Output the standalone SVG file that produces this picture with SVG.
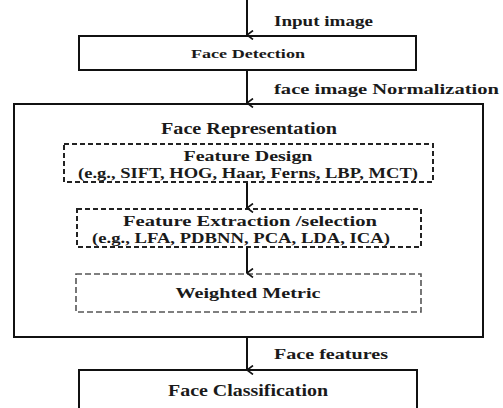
<svg xmlns="http://www.w3.org/2000/svg" width="503" height="408" viewBox="0 0 503 408">
<defs>
<style>
text{font-family:"Liberation Serif","DejaVu Serif",serif;font-weight:bold;fill:#1a1a1a}
.box{fill:#fff;stroke:#111;stroke-width:2}
.dash{fill:none;stroke:#222;stroke-width:2;stroke-dasharray:5,3}
.dash2{fill:none;stroke:#555;stroke-width:1.6;stroke-dasharray:6,3}
.conn{stroke:#111;stroke-width:2;fill:none;marker-end:url(#ah)}
</style>
<marker id="ah" viewBox="0 0 10 10" refX="5" refY="9" markerWidth="10" markerHeight="10" markerUnits="userSpaceOnUse" orient="auto-start-reverse">
<polyline points="0.5,3 5,9 9.5,3" fill="none" stroke="#111" stroke-width="1.6"/>
</marker>
</defs>
<rect width="503" height="408" fill="#fff"/>
<g id="face-detection">
<rect class="box" x="79" y="36" width="337" height="34"/>
<text x="248" y="58" font-size="12.5" text-anchor="middle" textLength="114" lengthAdjust="spacingAndGlyphs">Face Detection</text>
</g>
<g id="face-representation">
<rect class="box" x="14" y="104" width="469" height="233"/>
<text x="249" y="134" font-size="16" text-anchor="middle" textLength="176" lengthAdjust="spacingAndGlyphs">Face Representation</text>
</g>
<g id="feature-design">
<rect class="dash" x="64" y="144" width="369" height="38"/>
<text x="248" y="161" font-size="15" text-anchor="middle" textLength="129" lengthAdjust="spacingAndGlyphs">Feature Design</text>
<text x="248" y="178" font-size="15" text-anchor="middle" textLength="340" lengthAdjust="spacingAndGlyphs">(e.g., SIFT, HOG, Haar, Ferns, LBP, MCT)</text>
</g>
<g id="feature-extraction">
<rect class="dash" x="77" y="209" width="344" height="38"/>
<text x="250" y="226" font-size="15" text-anchor="middle" textLength="254" lengthAdjust="spacingAndGlyphs">Feature Extraction /selection</text>
<text x="241" y="243" font-size="15" text-anchor="middle" textLength="298" lengthAdjust="spacingAndGlyphs">(e.g., LFA, PDBNN, PCA, LDA, ICA)</text>
</g>
<g id="weighted-metric">
<rect class="dash2" x="76" y="274" width="345" height="38"/>
<text x="248" y="298" font-size="15" text-anchor="middle" textLength="145" lengthAdjust="spacingAndGlyphs">Weighted Metric</text>
</g>
<g id="face-classification">
<rect class="box" x="79" y="370" width="338" height="50"/>
<text x="248" y="396" font-size="16" text-anchor="middle" textLength="160" lengthAdjust="spacingAndGlyphs">Face Classification</text>
</g>
<g id="connectors">
<line class="conn" x1="247" y1="0" x2="247" y2="35"/>
<line class="conn" x1="247" y1="70" x2="247" y2="103"/>
<line class="conn" x1="247" y1="183" x2="247" y2="208"/>
<line class="conn" x1="247" y1="247" x2="247" y2="273"/>
<line class="conn" x1="247" y1="338" x2="247" y2="370"/>
<text x="274" y="26" font-size="15" textLength="99" lengthAdjust="spacingAndGlyphs">Input image</text>
<text x="274" y="94" font-size="15" textLength="225" lengthAdjust="spacingAndGlyphs">face image Normalization</text>
<text x="274" y="359" font-size="15" textLength="114" lengthAdjust="spacingAndGlyphs">Face features</text>
</g>
</svg>
